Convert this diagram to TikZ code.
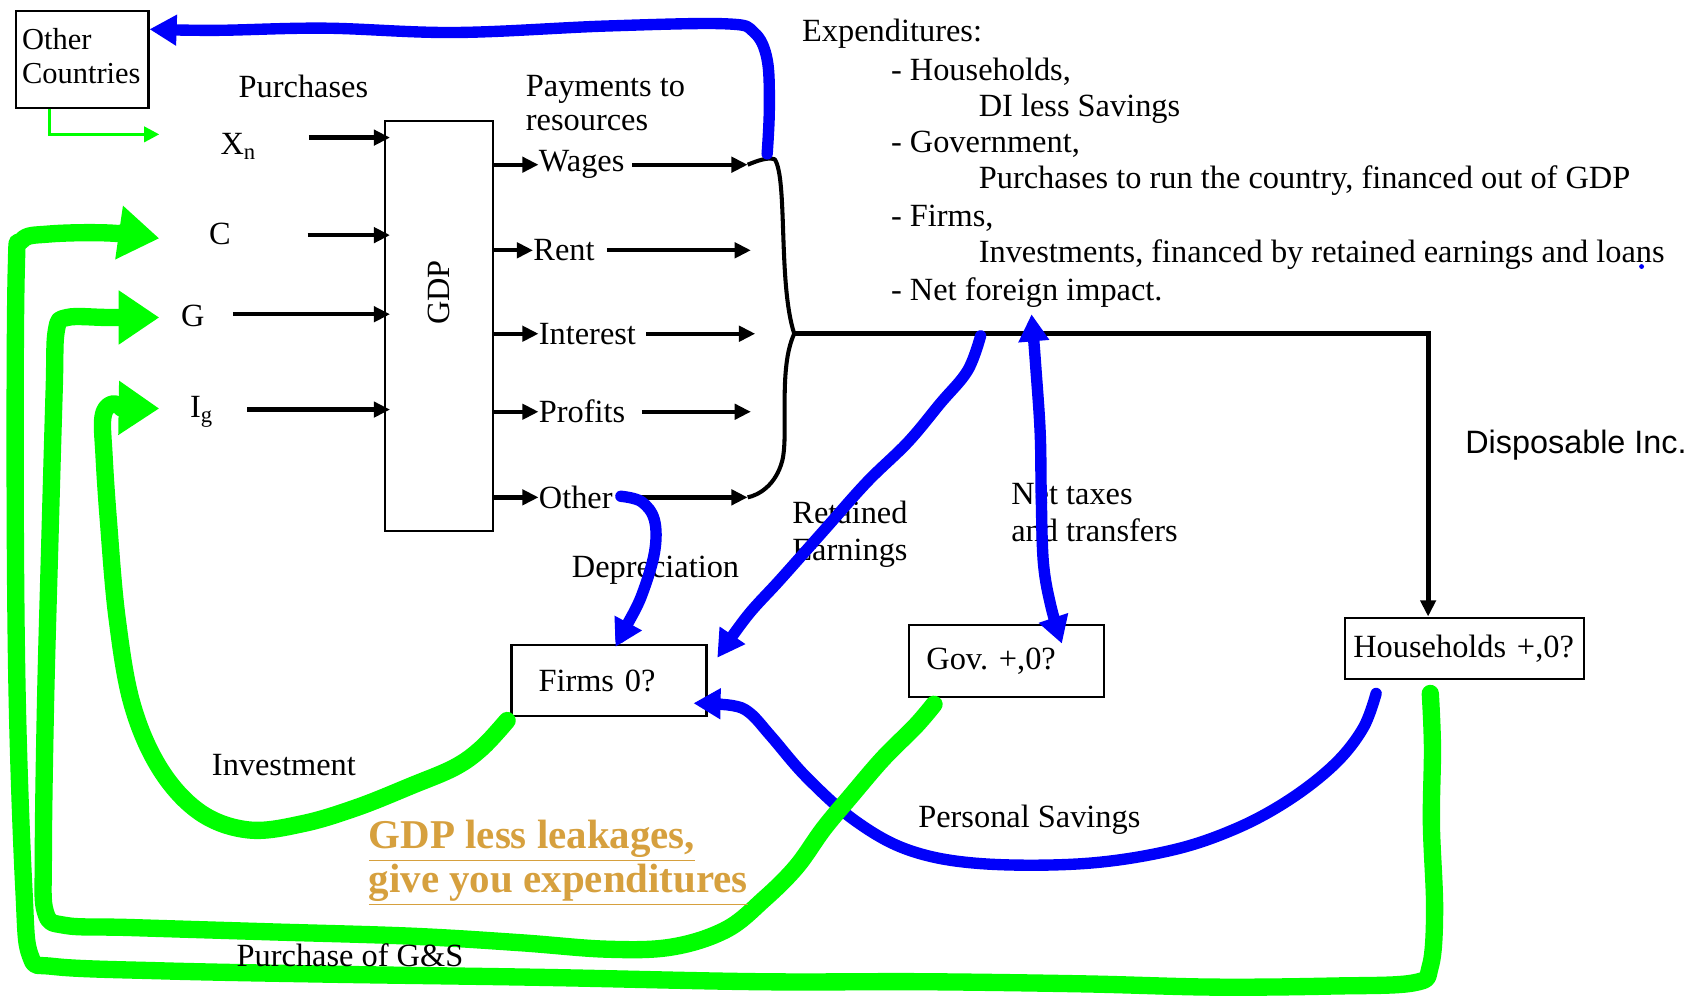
\documentclass[tikz,border=0pt]{standalone}
\usepackage{fontspec}
\setmainfont{Liberation Serif}
\setsansfont{Liberation Sans}
\usetikzlibrary{arrows.meta}
\frenchspacing

\definecolor{penblue}{RGB}{0,0,250}
\definecolor{pengreen}{RGB}{0,255,0}
\definecolor{gold}{RGB}{214,160,62}

\tikzset{
  box/.style={draw, line width=0.4mm, minimum height=13.2mm, align=left},
  txt/.style={yshift=-0.6mm},
  lab/.style={inner sep=0pt, anchor=west, yshift=-0.6mm},
  arr/.style={line width=0.8mm, -{Triangle[length=3mm,width=2.8mm]}},
  bluepen/.style={penblue, line width=2.1mm, line cap=round, line join=round},
  greenpen/.style={pengreen, line width=3.2mm, line cap=round, line join=round},
  bluetip/.style={-{Triangle[length=5mm,width=5.4mm]}},
  greentip/.style={-{Triangle[length=7.5mm,width=9.5mm]}}
}

\begin{document}
\begin{tikzpicture}[x=0.2mm, y=-0.2mm, font=\fontsize{17}{19.5}\selectfont]
\useasboundingbox (0,0) rectangle (1568,919);

\node[draw, line width=0.4mm, minimum width=24.4mm, minimum height=18mm] (other) at (76,55) {};
\node[lab, align=left, font=\fontsize{16}{18}\selectfont] (othertxt) at (20,49) {Other\\Countries};
\node[txt] (purch) at (280,77) {Purchases};
\node[lab, align=left, font=\fontsize{17}{17.8}\selectfont] (pay) at (485,92) {Payments to\\resources};

\node[txt] (xn) at (220,132) {X\textsubscript{n}};
\node[txt] (cc) at (203,213) {C};
\node[txt] (gg) at (178,289) {G};
\node[txt] (ig) at (186,377) {I\textsubscript{g}};

\node[draw, line width=0.4mm, minimum width=20mm, minimum height=75.6mm] (gdp) at (405,301) {};
\node[rotate=90] (gdptxt) at (405,270) {GDP};

\node[lab] (wages) at (497,149) {Wages};
\node[lab] (rent) at (492,228) {Rent};
\node[lab] (interest) at (497,305) {Interest};
\node[lab] (profits) at (497,377) {Profits};
\node[lab] (otherpay) at (497,456) {Other};

\node[lab] (expend) at (740,28) {Expenditures:};
\node[lab] (exhh) at (822,63) {- Households,};
\node[lab] (exdi) at (903,97) {DI less Savings};
\node[lab] (exgov) at (822,130) {- Government,};
\node[lab] (exgovtxt) at (903,164) {Purchases to run the country, financed out of GDP};
\node[lab] (exfirm) at (822,198) {- Firms,};
\node[lab] (exfirmtxt) at (903,232) {Investments, financed by retained earnings and loans};
\node[lab] (exnet) at (822,267) {- Net foreign impact.};
\fill[penblue] (1515,246) circle (0.45mm);

\node[lab, font=\sffamily\fontsize{17}{20}\selectfont] (disp) at (1352,408) {Disposable Inc.};
\node[lab, align=left] (ret) at (731,490) {Retained\\Earnings};
\node[lab, align=left] (tax) at (933,470) {Net taxes\\and transfers};
\node[txt] (dep) at (605,523) {Depreciation};
\node[txt] (inv) at (262,703) {Investment};
\node[txt] (psav) at (950,754) {Personal Savings};

\node[box, minimum width=36mm, inner xsep=5mm, text width=26mm] (firms) at (562,628) {Firms 0?};
\node[box, minimum width=36mm, inner xsep=3.2mm, text width=29.6mm] (gov) at (929,610) {Gov. +,0?};
\node[box, minimum width=44.2mm, minimum height=11.4mm, inner xsep=1.6mm, text width=41mm] (hh) at (1351.5,598.5) {Households +,0?};

\coordinate (xnA) at (285,127);
\coordinate (cA) at (284,217);
\coordinate (gA) at (215,290);
\coordinate (igA) at (228,378);
\foreach \a in {xnA,cA,gA,igA}
  \draw[arr, shorten >=-1.2mm] (\a) -- (\a -| gdp.west);

\foreach \p in {wages,rent,interest,profits,otherpay}
  \draw[arr] (gdp.east |- \p.west) -- (\p.west);

\coordinate (wE) at (690,0);
\coordinate (rE) at (693,0);
\coordinate (iE) at (697,0);
\coordinate (pE) at (693,0);
\coordinate (oE) at (690,0);
\foreach \p/\e/\g in {wages/wE/1.4mm, rent/rE/2.2mm, interest/iE/1.8mm, profits/pE/3mm, otherpay/oE/4mm}
  \draw[arr] ([xshift=\g]\p.east) -- (\p.east -| \e);

\coordinate (wB) at (wages.east -| wE);
\coordinate (oB) at (otherpay.east -| oE);
\coordinate (junc) at (733,308);
\coordinate (corner) at (1318,308);
\draw[line width=0.75mm, line join=round] (wB) .. controls (700,148) and (708,145) .. (715,147)
  .. controls (727,165) and (718,262) .. (junc)
  .. controls (718,340) and (728,400) .. (722,425)
  .. controls (716,448) and (700,457) .. (oB);
\draw[arr, line width=0.9mm] (junc) -- (corner) -- (corner |- hh.north);

\coordinate (ocIn) at (138,27);
\draw[bluepen, bluetip] plot[smooth, tension=0.6] coordinates {(708,142) (710,100) (708,55) (696,30) (670,22) (560,24) (420,30) (300,26) (200,28) (ocIn)};
\draw[bluepen, bluetip] plot[smooth, tension=0.6] coordinates {(573,458) (592,463) (604,480) (604,510) (592,550) (578,578) (568,597)};
\draw[bluepen, bluetip] plot[smooth, tension=0.6] coordinates {(905,310) (893,342) (868,372) (838,408) (800,445) (760,490) (720,535) (690,568) (662,607)};
\draw[bluepen, {Triangle[length=5mm,width=5.4mm]}-{Triangle[length=5mm,width=5.4mm]}] plot[smooth, tension=0.6] coordinates {(952,290) (956,340) (960,400) (961,460) (963,520) (970,560) (980,594)};
\draw[bluepen, bluetip] plot[smooth, tension=0.6] coordinates {(1270,640) (1258,672) (1232,705) (1190,738) (1140,765) (1080,785) (1000,797) (905,797) (840,785) (790,758) (745,718) (712,680) (692,658) (675,651) (640,649)};

\coordinate (xnIn) at (147,124);
\coordinate (cIn) at (147,220);
\coordinate (gIn) at (147,293);
\coordinate (igIn) at (147,377);
\draw[pengreen, line width=0.6mm, -{Triangle[length=2.8mm,width=2.8mm]}] ([xshift=6.4mm]other.south west) |- (xnIn);
\draw[greenpen, greentip] plot[smooth, tension=0.6] coordinates {(468,665) (445,690) (420,708) (380,725) (330,745) (280,760) (230,766) (185,750) (148,710) (122,650) (108,570) (100,480) (96,420) (95,385) (103,373) (118,376) (igIn)};
\draw[greenpen, greentip] plot[smooth, tension=0.6] coordinates {(862,650) (845,670) (815,700) (785,735) (760,765) (735,800) (705,830) (670,858) (620,874) (560,876) (480,870) (380,864) (250,860) (120,856) (60,854) (42,842) (40,790) (42,650) (46,500) (50,360) (52,305) (62,293) (100,293) (gIn)};
\draw[greenpen, greentip] plot[smooth, tension=0.6] coordinates {(1320,640) (1322,690) (1321,760) (1324,840) (1320,892) (1305,907) (1230,910) (1120,911) (1000,908) (850,906) (700,906) (500,902) (300,899) (150,896) (50,892) (28,882) (22,820) (16,650) (14,450) (15,250) (20,222) (45,216) (100,215) (cIn)};

\node[txt] (pgs) at (323,879) {Purchase of G\&S};
\node[lab, align=left, text=gold, font=\bfseries\fontsize{21.5}{23}\selectfont] (lesson) at (340,793)
  {\underline{GDP less leakages,}\\\underline{give you expenditures}};
\end{tikzpicture}
\end{document}
